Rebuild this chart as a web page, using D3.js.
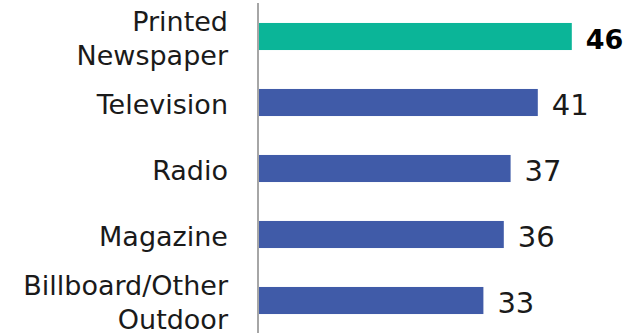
<!DOCTYPE html>
<html>
<head>
<meta charset="utf-8">
<script src="https://cdn.jsdelivr.net/npm/d3@7"></script>
<style>
  body { margin: 0; background: #fff; }
  svg { display: block; }
</style>
</head>
<body>
<script>
const categories = ['Printed Newspaper', 'Television', 'Radio', 'Magazine', 'Billboard/Other Outdoor'];
const labelLines = [['Printed', 'Newspaper'], ['Television'], ['Radio'], ['Magazine'], ['Billboard/Other', 'Outdoor']];
const values = [46, 41, 37, 36, 33];
const highlight = 'Printed Newspaper';

const width = 626,
    height = 335;

const svg = d3.select('body')
    .append('svg')
    .attr('width', width)
    .attr('height', height);

const x = d3.scaleLinear()
    .domain([0, 50])
    .range([259, 599]);

const y = d3.scaleBand()
    .domain(categories)
    .range([3.5, 333.5])
    .paddingInner(0.59)
    .paddingOuter(0.295);

// bars
svg.selectAll('rect.bar')
    .data(categories)
    .enter()
    .append('rect')
    .attr('class', 'bar')
    .attr('x', x(0))
    .attr('y', d => y(d))
    .attr('width', (d, i) => x(values[i]) - x(0))
    .attr('height', y.bandwidth())
    .attr('fill', d => d === highlight ? '#0bb598' : '#405ba8');

// axis line
svg.append('line')
    .attr('x1', x(0) - 1)
    .attr('x2', x(0) - 1)
    .attr('y1', 3)
    .attr('y2', 333)
    .attr('stroke', '#a6a6a6')
    .attr('stroke-width', 2);

// category labels
const lineGap = 34;
svg.selectAll('text.cat')
    .data(categories)
    .enter()
    .append('text')
    .attr('class', 'cat')
    .attr('text-anchor', 'end')
    .attr('font-family', 'DejaVu Sans, sans-serif')
    .attr('font-size', 27)
    .attr('fill', '#1a1a1a')
    .each(function (d, i) {
        const lines = labelLines[i];
        const c = y(d) + y.bandwidth() / 2 + 11;
        d3.select(this).selectAll('tspan')
            .data(lines)
            .enter()
            .append('tspan')
            .attr('x', 228)
            .attr('y', (l, j) => c + (j - (lines.length - 1) / 2) * lineGap)
            .text(l => l);
    });

// value labels
svg.selectAll('text.val')
    .data(categories)
    .enter()
    .append('text')
    .attr('class', 'val')
    .attr('x', (d, i) => x(values[i]) + 14)
    .attr('y', d => y(d) + y.bandwidth() / 2 + 12)
    .attr('font-family', 'DejaVu Sans, sans-serif')
    .attr('font-size', d => d === highlight ? 27 : 29)
    .attr('font-weight', d => d === highlight ? 'bold' : 'normal')
    .attr('fill', d => d === highlight ? '#000' : '#1a1a1a')
    .text((d, i) => values[i]);
</script>
</body>
</html>
